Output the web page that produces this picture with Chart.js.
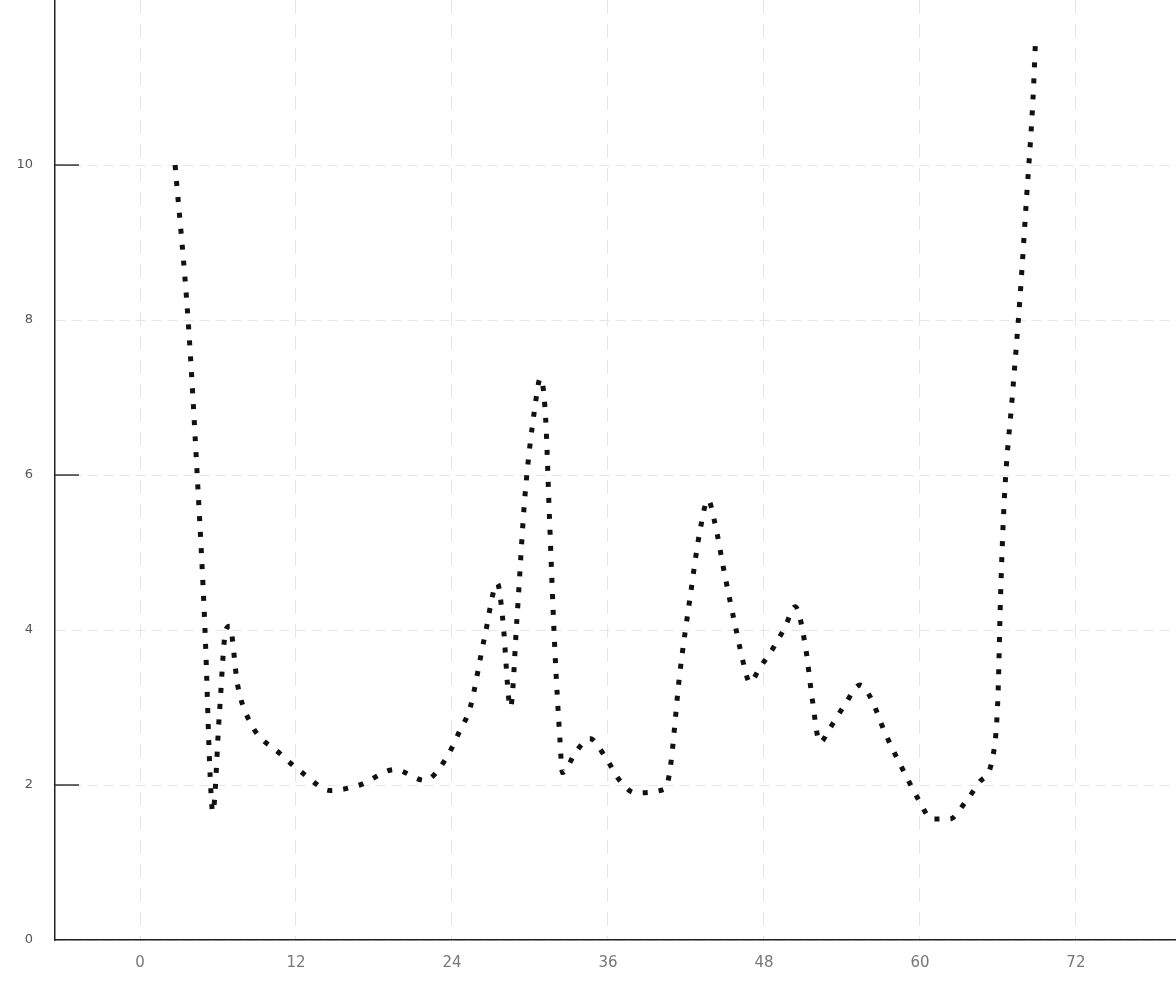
<!DOCTYPE html>
<html>
<head>
<meta charset="utf-8">
<script src="https://cdn.jsdelivr.net/npm/chart.js@4/dist/chart.umd.min.js"></script>
<style>
  html, body { margin: 0; padding: 0; background: #fff; }
  #wrap { width: 1176px; height: 984px; }
</style>
</head>
<body>
<div id="wrap"><canvas id="curva"></canvas></div>
<script>
// valores
const tiempos = [2.7, 3.7, 4.4, 5.0, 5.4, 5.6, 6.1, 6.6, 6.9, 7.5, 8.5, 10.8, 12.7, 14.6, 16.9, 19.6, 21.9, 23.5,
  24.6, 25.4, 26.5, 27.5, 27.9, 28.5, 29.0, 29.6, 30.4, 30.8, 31.2, 31.5, 31.9, 32.3, 32.5, 33.5, 34.6, 35.8,
  36.9, 38.1, 40.4, 40.8, 41.5, 42.3, 43.1, 43.7, 44.2, 45.0, 45.8, 46.5, 46.9, 47.7, 48.5, 49.6, 50.4, 51.2,
  51.7, 52.3, 53.1, 54.2, 55.4, 56.2, 57.3, 58.8, 60.0, 60.9, 62.3, 63.5, 64.6, 65.6, 66.0, 66.2, 66.5, 67.1,
  67.7, 68.2, 68.7, 68.9];
const valores = [10.0, 8.0, 6.0, 4.0, 2.1, 1.65, 2.9, 4.0, 4.05, 3.3, 2.8, 2.4, 2.13, 1.93, 2.0, 2.2, 2.06, 2.33,
  2.7, 3.0, 3.9, 4.6, 4.15, 3.0, 4.15, 5.7, 6.9, 7.25, 6.75, 5.45, 3.8, 2.6, 2.16, 2.42, 2.6, 2.36,
  2.06, 1.9, 1.95, 2.23, 3.4, 4.4, 5.3, 5.68, 5.4, 4.7, 4.05, 3.52, 3.32, 3.52, 3.71, 4.03, 4.3, 3.78,
  3.13, 2.55, 2.74, 3.03, 3.29, 3.13, 2.68, 2.16, 1.78, 1.56, 1.56, 1.78, 2.04, 2.36, 3.13, 4.42, 5.71, 7.0,
  8.29, 9.57, 10.86, 11.64];
const ticksX = [0, 12, 24, 36, 48, 60, 72];
const ticksY = [0, 2, 4, 6, 8, 10];

const puntos = tiempos.map((t, i) => ({ x: t, y: valores[i] }));

// marcas cortas del eje y hacia dentro (2, 6 y 10)
const marcasY = {
    id: 'marcasY',
    afterDraw(c) {
        const y = c.scales.y, a = c.chartArea, g = c.ctx;
        g.save();
        g.strokeStyle = '#333';
        g.lineWidth = 1.5;
        [2, 6, 10].forEach(v => {
            const py = y.getPixelForValue(v);
            g.beginPath();
            g.moveTo(a.left, py);
            g.lineTo(a.left + 24, py);
            g.stroke();
        });
        g.restore();
    }
};

const ctx = document.getElementById('curva').getContext('2d');
const chart = new Chart(ctx, {
    type: 'line',
    data: {
        datasets: [{
            data: puntos,
            borderColor: '#111',
            borderWidth: 5,
            borderDash: [5, 11],
            borderCapStyle: 'butt',
            pointRadius: 0,
            cubicInterpolationMode: 'monotone',
            fill: false
        }]
    },
    options: {
        responsive: true,
        maintainAspectRatio: false,
        animation: false,
        layout: { padding: 0 },
        plugins: { legend: { display: false }, tooltip: { enabled: false } },
        scales: {
            x: {
                type: 'linear',
                min: -6.54,
                max: 79.7,
                afterBuildTicks: s => { s.ticks = ticksX.map(v => ({ value: v })); },
                afterFit: s => { s.height = 44; s.paddingLeft = 0; s.paddingRight = 0; },
                grid: { color: '#e6e6e6', borderDash: [1, 18], drawTicks: false },
                border: { color: '#222', dash: [14, 10], width: 1.5 },
                ticks: { color: '#777', font: { family: 'DejaVu Sans', size: 15 }, padding: 14 }
            },
            y: {
                min: 0,
                max: 12.13,
                afterBuildTicks: s => { s.ticks = ticksY.map(v => ({ value: v })); },
                afterFit: s => { s.width = 55; s.paddingTop = 0; s.paddingBottom = 0; },
                grid: { color: '#e6e6e6', borderDash: [1, 18], drawTicks: false },
                border: { color: '#222', dash: [10, 6], width: 1.5 },
                ticks: { color: '#555', font: { family: 'DejaVu Sans', size: 13 }, padding: 22 }
            }
        }
    },
    plugins: [marcasY]
});
</script>
</body>
</html>
